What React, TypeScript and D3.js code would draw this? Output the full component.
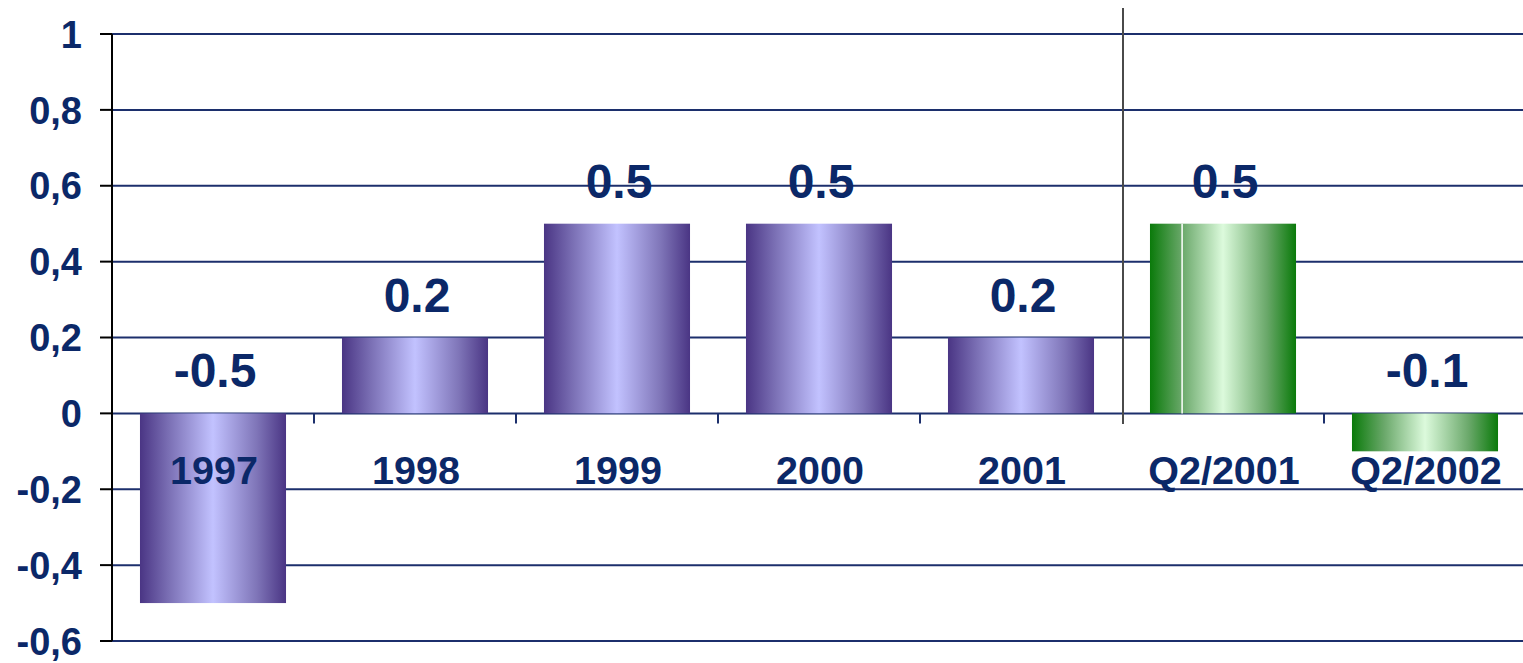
import React from "react";
import * as d3 from "d3";

const categories = ["1997", "1998", "1999", "2000", "2001", "Q2/2001", "Q2/2002"];
const values = [-0.5, 0.2, 0.5, 0.5, 0.2, 0.5, -0.1];
const valueLabels = ["-0.5", "0.2", "0.5", "0.5", "0.2", "0.5", "-0.1"];
const seriesGroup = ["annual", "annual", "annual", "annual", "annual", "quarter", "quarter"];
const yTicks = [-0.6, -0.4, -0.2, 0, 0.2, 0.4, 0.6, 0.8, 1];

const W = 1523;
const H = 663;
const NAVY = "#0b2868";
const GRID = "#1c2f6c";
const FONT = "'Liberation Sans', Arial, sans-serif";

export default function App() {
  const x = d3
    .scaleBand<string>()
    .domain(categories)
    .range([112, 1526])
    .paddingInner(0.277)
    .paddingOuter(0.1385);
  const y = d3.scaleLinear().domain([-0.6, 1]).range([641, 34]);
  const step = x.step();
  const x0 = 112;
  const fmt = (v: number) =>
    v === 0
      ? "0"
      : d3
          .format(".1f")(v)
          .replace("\u2212", "-")
          .replace(".", ",")
          .replace(/,0$/, "");
  const zeroY = y(0);
  const sepX = x0 + step * 5;

  return (
    <svg
      width={W}
      height={H}
      style={{ position: "absolute", left: 0, top: 0, background: "#fff" }}
      fontFamily={FONT}
    >
      <defs>
        <linearGradient id="gPurple" x1="0" x2="1" y1="0" y2="0">
          <stop offset="0" stopColor="#4a3584" />
          <stop offset="0.2" stopColor="#7b70b5" />
          <stop offset="0.5" stopColor="#c2c2ff" />
          <stop offset="0.8" stopColor="#7f75b8" />
          <stop offset="1" stopColor="#4a3584" />
        </linearGradient>
        <linearGradient id="gGreen" x1="0" x2="1" y1="0" y2="0">
          <stop offset="0" stopColor="#0a7a0a" />
          <stop offset="0.22" stopColor="#6aa86a" />
          <stop offset="0.5" stopColor="#dcfadc" />
          <stop offset="0.8" stopColor="#6aa86a" />
          <stop offset="1" stopColor="#0a7a0a" />
        </linearGradient>
      </defs>

      {yTicks.map((t) => (
        <line key={"g" + t} x1={x0} x2={W} y1={y(t)} y2={y(t)} stroke={GRID} strokeWidth={2} />
      ))}

      {categories.slice(1).map((c, i) =>
        i === 4 ? null : (
          <line
            key={"ct" + c}
            x1={x0 + step * (i + 1)}
            x2={x0 + step * (i + 1)}
            y1={zeroY}
            y2={zeroY + 10}
            stroke={GRID}
            strokeWidth={2}
          />
        )
      )}

      {categories.map((c, i) => {
        const v = values[i];
        const top = y(Math.max(v, 0));
        const h = Math.abs(y(v) - zeroY);
        const bx = x(c)!;
        const bw = x.bandwidth();
        return (
          <g key={"b" + c}>
            <rect
              x={bx}
              y={top}
              width={bw}
              height={h}
              fill={seriesGroup[i] === "annual" ? "url(#gPurple)" : "url(#gGreen)"}
            />
            {i === 5 && (
              <line x1={bx + bw * 0.22} x2={bx + bw * 0.22} y1={top} y2={top + h} stroke="#fff" strokeWidth={1.5} />
            )}
          </g>
        );
      })}

      <line x1={sepX + 1} x2={sepX + 1} y1={8} y2={424} stroke="#4a4a4a" strokeWidth={2} />

      <line x1={x0} x2={x0} y1={y(1)} y2={y(-0.6)} stroke="#000" strokeWidth={2} />
      {yTicks.map((t) => (
        <g key={"yt" + t}>
          <line x1={100} x2={x0} y1={y(t)} y2={y(t)} stroke="#000" strokeWidth={2} />
          <text
            x={82}
            y={y(t)}
            dy="0.36em"
            textAnchor="end"
            fontSize={38}
            fontWeight="bold"
            fill={NAVY}
          >
            {fmt(t)}
          </text>
        </g>
      ))}

      {categories.map((c) => (
        <text
          key={"cl" + c}
          x={x(c)! + x.bandwidth() / 2 + 1}
          y={484}
          textAnchor="middle"
          fontSize={39.5}
          fontWeight="bold"
          fill={NAVY}
        >
          {c}
        </text>
      ))}

      {categories.map((c, i) => (
        <text
          key={"vl" + c}
          x={x(c)! + x.bandwidth() / 2 + 2}
          y={y(Math.max(values[i], 0)) - 26}
          textAnchor="middle"
          fontSize={48}
          fontWeight="bold"
          fill={NAVY}
        >
          {valueLabels[i]}
        </text>
      ))}
    </svg>
  );
}
